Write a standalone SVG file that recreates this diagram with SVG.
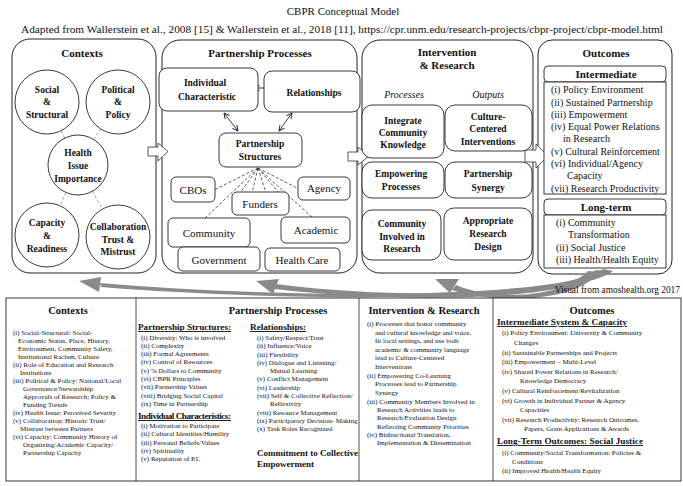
<svg xmlns="http://www.w3.org/2000/svg" width="683" height="486" viewBox="0 0 683 486">
<style>
text{font-family:"Liberation Serif","DejaVu Serif","Times New Roman",serif;fill:#111}
.panel{fill:#fff;stroke:#222;stroke-width:1}
.box{fill:#fff;stroke:#222;stroke-width:0.9}
.circ{fill:#fff;stroke:#222;stroke-width:0.9}
.hd{font-size:11px;font-weight:bold;text-anchor:middle}
.lb{font-size:9.5px;font-weight:bold;text-anchor:middle}
.sm{font-size:11px;text-anchor:middle}
.it{font-size:10px;font-style:italic;text-anchor:middle}
.li{font-size:10px}
.tb{font-size:7px}
.th{font-size:10.5px;font-weight:bold;text-anchor:middle}
.sh{font-size:9.2px;font-weight:bold;text-decoration:underline}
.dash{stroke:#333;stroke-width:0.8;stroke-dasharray:3 2;fill:none}
.cdash{stroke:#aaa;stroke-width:1;stroke-dasharray:3 2;fill:none}
.arr{stroke:#222;stroke-width:0.9;fill:none;marker-start:url(#ah);marker-end:url(#ah)}
.block{fill:#fff;stroke:#444;stroke-width:0.9}
.swoosh{fill:#8a8a8a}
.line{stroke:#222;stroke-width:0.8;fill:none}
</style>
<defs>
<marker id="ah" viewBox="0 0 10 10" refX="9" refY="5" markerWidth="7" markerHeight="7" orient="auto-start-reverse" markerUnits="userSpaceOnUse"><path d="M1,1 L9,5 L1,9" fill="none" stroke="#222" stroke-width="1.3"/></marker>
</defs>

<g id="title">
<text x="343" y="15" font-size="11" text-anchor="middle">CBPR Conceptual Model</text>
<text x="21" y="33" font-size="10.2" textLength="642" lengthAdjust="spacingAndGlyphs">Adapted from Wallerstein et al., 2008 [15] &amp; Wallerstein et al., 2018 [11], https://cpr.unm.edu/research-projects/cbpr-project/cbpr-model.html</text>
</g>

<g id="panels">
<rect id="panel-contexts" class="panel" x="12" y="39" width="144" height="234" rx="18"/>
<rect id="panel-partnership" class="panel" x="162" y="40" width="195" height="233" rx="18"/>
<rect id="panel-intervention" class="panel" x="362" y="40" width="171" height="233" rx="18"/>
<rect id="panel-outcomes" class="panel" x="538" y="40" width="134" height="234" rx="14"/>
<text class="hd" x="82" y="57">Contexts</text>
<text class="hd" x="260" y="57" font-size="10.5">Partnership Processes</text>
<text class="hd" x="447" y="56">Intervention</text>
<text class="hd" x="447" y="69">&amp; Research</text>
<text class="hd" x="606" y="57">Outcomes</text>
</g>

<g id="connectors">
<line class="cdash" x1="78" y1="165" x2="47" y2="102"/>
<line class="cdash" x1="78" y1="165" x2="118" y2="102"/>
<line class="cdash" x1="78" y1="165" x2="47" y2="235"/>
<line class="cdash" x1="78" y1="165" x2="118" y2="237"/>
<line class="arr" x1="254" y1="88" x2="271" y2="88"/>
<line class="arr" x1="224" y1="113" x2="238" y2="131"/>
<line class="arr" x1="292" y1="113" x2="279" y2="131"/>
<line class="dash" x1="258" y1="168" x2="214" y2="190"/>
<line class="dash" x1="258" y1="168" x2="204" y2="219"/>
<line class="dash" x1="258" y1="168" x2="240" y2="193"/>
<line class="dash" x1="258" y1="168" x2="252" y2="193"/>
<line class="dash" x1="258" y1="168" x2="266" y2="193"/>
<line class="dash" x1="258" y1="168" x2="279" y2="193"/>
<line class="dash" x1="258" y1="168" x2="313" y2="218"/>
<line class="dash" x1="258" y1="168" x2="299" y2="189"/>
<polygon class="block" points="148,147 158,147 158,143 168,151.5 158,161 158,156 148,156"/>
<polygon class="block" points="348,152 358,152 358,147 369,156 358,165 358,161 348,161"/>
<polygon class="block" points="525,150 536,150 536,144 548,156 536,168 536,162 525,162"/>
<path class="swoosh" d="M603,269 C570,298 300,300 100,283 L101,287 C300,303 575,302 613,271 Z"/>
<polygon class="swoosh" points="79,281 101,277 99,292"/>
<path class="swoosh" d="M596,270 C560,296 400,300 276,284 L274,289 C400,303 570,302 605,271 Z"/>
<polygon class="swoosh" points="256,281 279,279 273,294"/>
<path class="swoosh" d="M588,271 C560,300 490,300 456,285 L452,290 C495,305 578,302 599,272 Z"/>
<polygon class="swoosh" points="435,279 459,279 450,293"/>
</g>

<g id="social-structural"><circle class="circ" cx="47" cy="102" r="32"/>
<text class="lb" x="47" y="93">Social</text><text class="lb" x="47" y="105">&amp;</text><text class="lb" x="47" y="118">Structural</text></g>
<g id="political-policy"><circle class="circ" cx="118" cy="102" r="32"/>
<text class="lb" x="118" y="93">Political</text><text class="lb" x="118" y="105">&amp;</text><text class="lb" x="118" y="118">Policy</text></g>
<g id="health-issue"><circle class="circ" cx="78" cy="165" r="30"/>
<text class="lb" x="78" y="156">Health</text><text class="lb" x="78" y="169">Issue</text><text class="lb" x="78" y="182">Importance</text></g>
<g id="capacity-readiness"><circle class="circ" cx="47" cy="235" r="32"/>
<text class="lb" x="47" y="226">Capacity</text><text class="lb" x="47" y="239">&amp;</text><text class="lb" x="47" y="252">Readiness</text></g>
<g id="collaboration"><circle class="circ" cx="118" cy="237" r="32"/>
<text class="lb" x="118" y="230">Collaboration</text><text class="lb" x="118" y="243">Trust &amp;</text><text class="lb" x="118" y="255">Mistrust</text></g>

<g id="individual-characteristic"><rect class="box" x="159" y="68" width="99" height="43" rx="8"/>
<text class="lb" x="205" y="86">Individual</text><text class="lb" x="207" y="100">Characteristic</text></g>
<g id="relationships"><rect class="box" x="264" y="71" width="96" height="41" rx="8"/>
<text class="lb" x="314" y="96">Relationships</text></g>
<g id="partnership-structures"><rect class="box" x="219" y="133" width="83" height="34" rx="7"/>
<text class="lb" x="260" y="147">Partnership</text><text class="lb" x="260" y="160">Structures</text></g>
<g id="cbos"><rect class="box" x="171" y="177" width="44" height="25" rx="5"/><text class="sm" x="193" y="194">CBOs</text></g>
<g id="agency"><rect class="box" x="298" y="177" width="52" height="23" rx="5"/><text class="sm" x="324" y="192">Agency</text></g>
<g id="funders"><rect class="box" x="232" y="192" width="57" height="23" rx="5"/><text class="sm" x="260" y="208">Funders</text></g>
<g id="community"><rect class="box" x="168" y="218" width="82" height="29" rx="5"/><text class="sm" x="209" y="237">Community</text></g>
<g id="academic"><rect class="box" x="281" y="217" width="69" height="26" rx="5"/><text class="sm" x="316" y="234">Academic</text></g>
<g id="government"><rect class="box" x="178" y="247" width="82" height="24" rx="5"/><text class="sm" x="219" y="264">Government</text></g>
<g id="health-care"><rect class="box" x="265" y="248" width="75" height="23" rx="5"/><text class="sm" x="302" y="264">Health Care</text></g>

<g id="ir-labels"><text class="it" x="404" y="98">Processes</text><text class="it" x="488" y="98">Outputs</text></g>
<g id="integrate-knowledge"><rect class="box" x="362" y="105" width="82" height="53" rx="10"/>
<text class="lb" x="403" y="124">Integrate</text><text class="lb" x="403" y="136">Community</text><text class="lb" x="403" y="148">Knowledge</text></g>
<g id="culture-centered"><rect class="box" x="445" y="105" width="87" height="46" rx="10"/>
<text class="lb" x="488" y="120">Culture-</text><text class="lb" x="488" y="132">Centered</text><text class="lb" x="488" y="145">Interventions</text></g>
<g id="empowering-processes"><rect class="box" x="362" y="162" width="82" height="36" rx="10"/>
<text class="lb" x="401" y="177">Empowering</text><text class="lb" x="401" y="190">Processes</text></g>
<g id="partnership-synergy"><rect class="box" x="445" y="162" width="87" height="36" rx="10"/>
<text class="lb" x="488" y="177">Partnership</text><text class="lb" x="488" y="191">Synergy</text></g>
<g id="community-involved"><rect class="box" x="362" y="210" width="79" height="50" rx="10"/>
<text class="lb" x="402" y="227">Community</text><text class="lb" x="402" y="240">Involved in</text><text class="lb" x="402" y="252">Research</text></g>
<g id="appropriate-design"><rect class="box" x="444" y="208" width="88" height="52" rx="10"/>
<text class="lb" x="488" y="224">Appropriate</text><text class="lb" x="488" y="237">Research</text><text class="lb" x="488" y="250">Design</text></g>

<g id="intermediate">
<rect class="box" x="544" y="66" width="122" height="16" rx="4"/>
<rect class="box" x="544" y="82" width="122" height="112"/>
<text class="hd" x="606" y="78">Intermediate</text>
<text class="li" x="551" y="93">(i) Policy Environment</text>
<text class="li" x="551" y="106">(ii) Sustained Partnership</text>
<text class="li" x="551" y="118">(iii) Empowerment</text>
<text class="li" x="551" y="130">(iv) Equal Power Relations</text>
<text class="li" x="563" y="142">in Research</text>
<text class="li" x="551" y="155">(v) Cultural Reinforcement</text>
<text class="li" x="551" y="167">(vi) Individual/Agency</text>
<text class="li" x="567" y="179">Capacity</text>
<text class="li" x="551" y="192">(vii) Research Productivity</text>
</g>
<g id="long-term">
<rect class="box" x="544" y="199" width="122" height="16" rx="4"/>
<rect class="box" x="544" y="215" width="122" height="53"/>
<text class="hd" x="606" y="211">Long-term</text>
<text class="li" x="556" y="226">(i) Community</text>
<text class="li" x="568" y="238">Transformation</text>
<text class="li" x="556" y="251">(ii) Social Justice</text>
<text class="li" x="556" y="263">(iii) Health/Health Equity</text>
</g>

<text x="680" y="293" font-size="9.4" text-anchor="end">Visual from amoshealth.org 2017</text>

<g id="table">
<rect x="6" y="298" width="675" height="183" fill="#fff" stroke="#222" stroke-width="0.9"/>
<line class="line" x1="136" y1="298" x2="136" y2="481"/>
<line class="line" x1="359" y1="298" x2="359" y2="481"/>
<line class="line" x1="493" y1="298" x2="493" y2="481"/>
</g>

<g id="table-contexts">
<text class="th" x="68" y="314">Contexts</text>
<text class="tb" x="13" y="335">(i) Social-Structural: Social-</text>
<text class="tb" x="18" y="343">Economic Status, Place, History,</text>
<text class="tb" x="18" y="351">Environment, Community Safety,</text>
<text class="tb" x="18" y="359">Institutional Racism, Culture</text>
<text class="tb" x="13" y="367">(ii) Role of Education and Research</text>
<text class="tb" x="20" y="375">Institutions</text>
<text class="tb" x="13" y="383">(iii) Political &amp; Policy: National/Local</text>
<text class="tb" x="23" y="391">Governance/Stewardship</text>
<text class="tb" x="23" y="399">Approvals of Research; Policy &amp;</text>
<text class="tb" x="23" y="407">Funding Trends</text>
<text class="tb" x="13" y="415">(iv) Health Issue: Perceived Severity</text>
<text class="tb" x="13" y="423">(v) Collaboration: Historic Trust/</text>
<text class="tb" x="20" y="431">Mistrust between Partners</text>
<text class="tb" x="13" y="439">(vi) Capacity: Community History of</text>
<text class="tb" x="23" y="447">Organizing/Academic Capacity/</text>
<text class="tb" x="23" y="455">Partnership Capacity</text>
</g>

<g id="table-partnership">
<text class="th" x="278" y="314">Partnership Processes</text>
<text class="sh" x="138" y="330" textLength="93">Partnership Structures:</text>
<text class="tb" x="141" y="340">(i) Diversity: Who is involved</text>
<text class="tb" x="141" y="348">(ii) Complexity</text>
<text class="tb" x="141" y="356">(iii) Formal Agreements</text>
<text class="tb" x="141" y="364">(iv) Control of Resources</text>
<text class="tb" x="141" y="373">(v) % Dollars to Community</text>
<text class="tb" x="141" y="381">(vi) CBPR Principles</text>
<text class="tb" x="141" y="389">(vii) Partnership Values</text>
<text class="tb" x="141" y="398">(viii) Bridging Social Capital</text>
<text class="tb" x="141" y="406">(ix) Time in Partnership</text>
<text class="sh" x="138" y="419" textLength="93">Individual Characteristics:</text>
<text class="tb" x="141" y="428">(i) Motivation to Participate</text>
<text class="tb" x="141" y="436">(ii) Cultural Identities/Humility</text>
<text class="tb" x="141" y="445">(iii) Personal Beliefs/Values</text>
<text class="tb" x="141" y="453">(iv) Spirituality</text>
<text class="tb" x="141" y="461">(v) Reputation of P.I.</text>
<text class="sh" x="250" y="330">Relationships:</text>
<text class="tb" x="257" y="340">(i) Safety/Respect/Trust</text>
<text class="tb" x="257" y="348">(ii) Influence/Voice</text>
<text class="tb" x="257" y="357">(iii) Flexibility</text>
<text class="tb" x="257" y="365">(iv) Dialogue and Listening/</text>
<text class="tb" x="270" y="373">Mutual Learning</text>
<text class="tb" x="257" y="381">(v) Conflict Management</text>
<text class="tb" x="257" y="390">(vi) Leadership</text>
<text class="tb" x="257" y="398">(vii) Self &amp; Collective Reflection/</text>
<text class="tb" x="270" y="406">Reflexivity</text>
<text class="tb" x="257" y="415">(viii) Resource Management</text>
<text class="tb" x="257" y="423">(ix) Participatory Decision- Making</text>
<text class="tb" x="257" y="431">(x) Task Roles Recognized</text>
<text x="257" y="456" font-size="9" font-weight="bold">Commitment to Collective</text>
<text x="257" y="467" font-size="9" font-weight="bold">Empowerment</text>
</g>

<g id="table-intervention">
<text class="th" x="424" y="314" font-size="11">Intervention &amp; Research</text>
<text class="tb" x="367" y="326">(i) Processes that honor community</text>
<text class="tb" x="375" y="335">and cultural knowledge and voice,</text>
<text class="tb" x="375" y="343">fit local settings, and use both</text>
<text class="tb" x="375" y="352">academic &amp; community language</text>
<text class="tb" x="375" y="360">lead to Culture-Centered</text>
<text class="tb" x="375" y="369">Interventions</text>
<text class="tb" x="367" y="378">(ii) Empowering Co-Learning</text>
<text class="tb" x="375" y="386">Processes lead to Partnership</text>
<text class="tb" x="375" y="395">Synergy</text>
<text class="tb" x="367" y="404">(iii) Community Members Involved in</text>
<text class="tb" x="377" y="412">Research Activities leads to</text>
<text class="tb" x="377" y="420">Research/Evaluation Design</text>
<text class="tb" x="377" y="429">Reflecting Community Priorities</text>
<text class="tb" x="367" y="437">(iv) Bidirectional Translation,</text>
<text class="tb" x="377" y="445">Implementation &amp; Dissemination</text>
</g>

<g id="table-outcomes">
<text class="th" x="592" y="314">Outcomes</text>
<text class="sh" x="497" y="325" textLength="130">Intermediate System &amp; Capacity</text>
<text class="tb" x="502" y="335">(i) Policy Environment: University &amp; Community</text>
<text class="tb" x="514" y="345">Changes</text>
<text class="tb" x="502" y="355">(ii) Sustainable Partnerships and Projects</text>
<text class="tb" x="502" y="364">(iii) Empowerment – Multi-Level</text>
<text class="tb" x="502" y="374">(iv) Shared Power Relations in Research/</text>
<text class="tb" x="520" y="383">Knowledge Democracy</text>
<text class="tb" x="502" y="393">(v) Cultural Reinforcement/Revitalization</text>
<text class="tb" x="502" y="403">(vi) Growth in Individual Partner &amp; Agency</text>
<text class="tb" x="520" y="412">Capacities</text>
<text class="tb" x="502" y="422">(vii) Research Productivity: Research Outcomes,</text>
<text class="tb" x="524" y="431">Papers, Grant Applications &amp; Awards</text>
<text class="sh" x="497" y="444" textLength="146">Long-Term Outcomes: Social Justice</text>
<text class="tb" x="502" y="455">(i) Community/Social Transformation: Policies &amp;</text>
<text class="tb" x="512" y="464">Conditions</text>
<text class="tb" x="502" y="473">(ii) Improved Health/Health Equity</text>
</g>
</svg>
